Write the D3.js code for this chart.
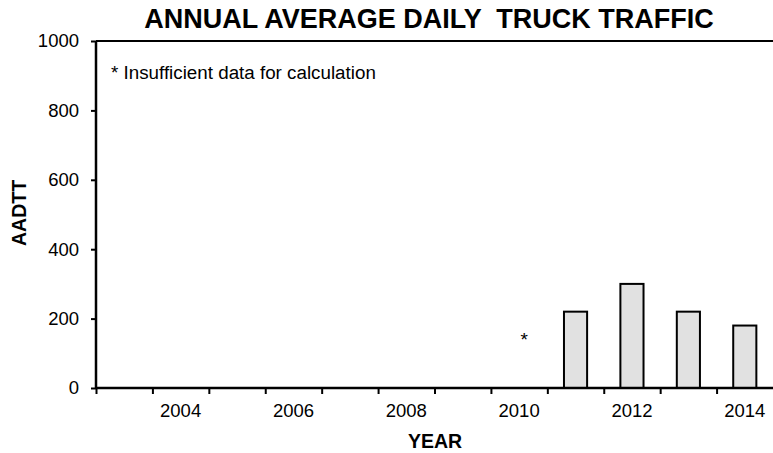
<!DOCTYPE html>
<html>
  <head>
    <title>AADTT</title>
    <script src="https://d3js.org/d3.v7.min.js"></script>
    <style>
      body { margin: 0; background: #ffffff; }
    </style>
  </head>
  <body>
    <svg width="773" height="453" id="mainsvg" font-family="Liberation Sans, Arial, sans-serif"></svg>
    <script>
        // data
        const years = ['2003', '2004', '2005', '2006', '2007', '2008', '2009', '2010', '2011', '2012', '2013', '2014'];
        const aadtt = [null, null, null, null, null, null, null, null, 220, 300, 220, 180];
        const missingYears = ['2010'];   // marked with *
        const yTicks = [0, 200, 400, 600, 800, 1000];
        const xLabels = ['2004', '2006', '2008', '2010', '2012', '2014'];

        const svg = d3.select('#mainsvg');
        const margin = {top: 41, right: 0, bottom: 65, left: 96};
        const innerWidth = +svg.attr('width') - margin.left - margin.right;
        const innerHeight = +svg.attr('height') - margin.top - margin.bottom;

        const xScale = d3.scaleBand()
            .domain(years)
            .range([0, innerWidth])
            .paddingInner(0.59)
            .paddingOuter(0.295);
        // boundaries between years, for the tick marks
        const xEdge = d3.scaleLinear()
            .domain([0, years.length])
            .range([0, innerWidth]);
        const yScale = d3.scaleLinear()
            .domain([0, 1000])
            .range([innerHeight, 0]);

        const g = svg.append('g')
            .attr('transform', `translate(${margin.left}, ${margin.top})`);

        // top frame line
        g.append('line')
            .attr('x1', 0).attr('x2', innerWidth)
            .attr('y1', 0).attr('y2', 0)
            .attr('stroke', '#000').attr('stroke-width', 2);

        // bars
        const rows = years.map((y, i) => ({year: y, value: aadtt[i]})).filter(d => d.value !== null);
        g.selectAll('rect.bar').data(rows).enter().append('rect')
            .attr('class', 'bar')
            .attr('x', d => xScale(d.year))
            .attr('y', d => yScale(d.value))
            .attr('width', xScale.bandwidth())
            .attr('height', d => yScale(0) - yScale(d.value))
            .attr('fill', '#e1e1e1')
            .attr('stroke', '#000')
            .attr('stroke-width', 2);

        // asterisks for missing years
        g.selectAll('text.star').data(missingYears).enter().append('text')
            .attr('class', 'star')
            .attr('x', d => xScale(d) + xScale.bandwidth() / 2 + 5)
            .attr('y', yScale(120))
            .attr('text-anchor', 'middle')
            .attr('font-size', 19)
            .text('*');

        // y axis
        const yAxis = d3.axisLeft(yScale).tickValues(yTicks).tickSize(5).tickPadding(12).tickFormat(d3.format('d'));
        const yAxisGroup = g.append('g').call(yAxis)
            .attr('font-size', 18.5)
            .attr('font-family', null);
        yAxisGroup.select('.domain').attr('stroke-width', 2.5).attr('d', `M0,0V${innerHeight}`);
        yAxisGroup.selectAll('.tick line').attr('stroke-width', 2);

        // x axis: tick marks between years, labels on even years
        const xTickAxis = d3.axisBottom(xEdge).tickValues(d3.range(0, years.length)).tickSize(6);
        const xTickGroup = g.append('g')
            .attr('transform', `translate(0, ${innerHeight})`)
            .call(xTickAxis);
        xTickGroup.select('.domain').attr('stroke-width', 2.5).attr('d', `M0,0H${innerWidth}`);
        xTickGroup.selectAll('.tick line').attr('stroke-width', 2);
        xTickGroup.selectAll('.tick text').remove();

        const xLabelAxis = d3.axisBottom(xScale)
            .tickValues(xLabels)
            .tickSize(0).tickPadding(16);
        const xLabelGroup = g.append('g')
            .attr('transform', `translate(0, ${innerHeight})`)
            .call(xLabelAxis)
            .attr('font-size', 18.5)
            .attr('font-family', null);
        xLabelGroup.select('.domain').remove();

        // axis titles
        svg.append('text')
            .attr('x', 435)
            .attr('y', 448)
            .attr('text-anchor', 'middle')
            .attr('font-size', 19.5)
            .attr('font-weight', 'bold')
            .text('YEAR');
        svg.append('text')
            .attr('transform', 'rotate(-90)')
            .attr('x', -213)
            .attr('y', 26)
            .attr('text-anchor', 'middle')
            .attr('font-size', 19.5)
            .attr('font-weight', 'bold')
            .text('AADTT');

        // title and note
        svg.append('text')
            .attr('x', 429)
            .attr('y', 28)
            .attr('text-anchor', 'middle')
            .attr('font-size', 27)
            .attr('font-weight', 'bold')
            .attr('xml:space', 'preserve')
            .style('white-space', 'pre')
            .text('ANNUAL AVERAGE DAILY  TRUCK TRAFFIC');
        svg.append('text')
            .attr('x', 111)
            .attr('y', 79)
            .attr('font-size', 18.8)
            .text('* Insufficient data for calculation');
    </script>
  </body>
</html>
